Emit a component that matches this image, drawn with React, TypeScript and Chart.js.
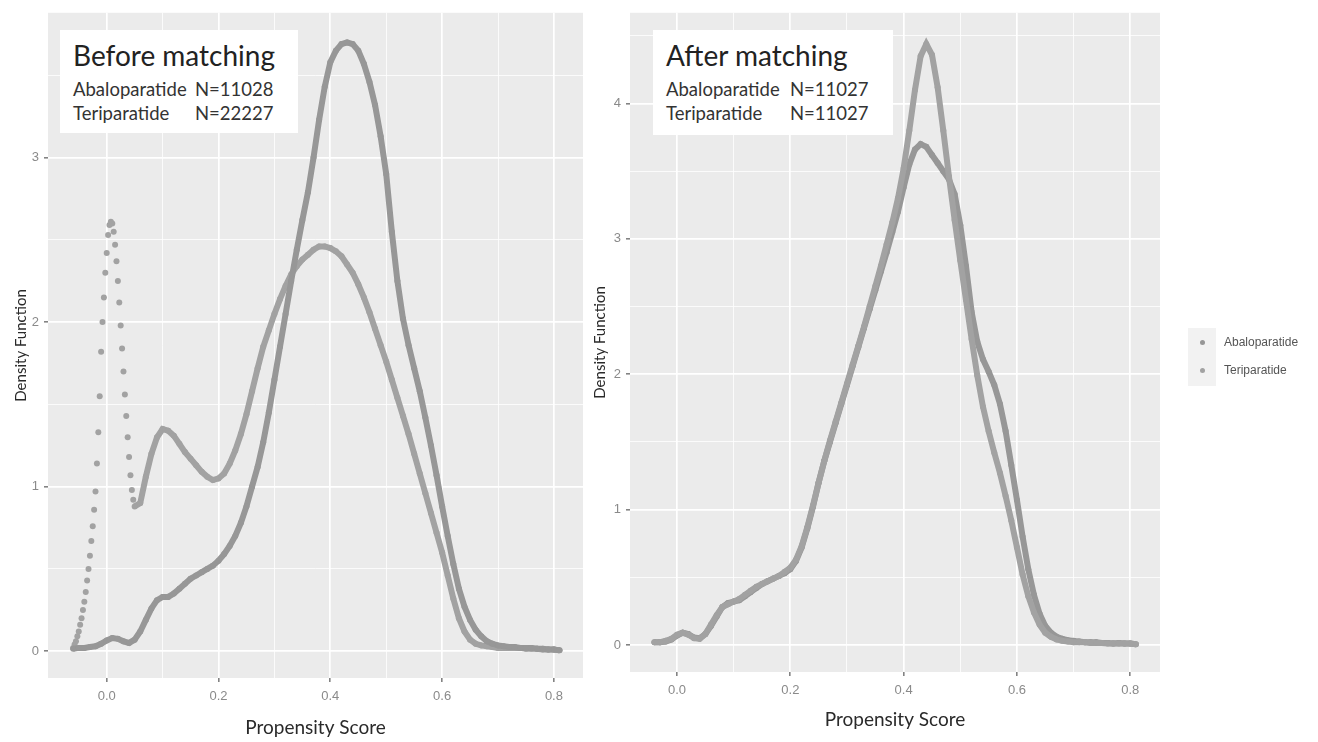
import React, { useEffect, useRef } from "react";
import { Chart, registerables } from "chart.js";
Chart.register(...registerables);

// ---------- DATA ----------
const seriesNames = ["Abaloparatide", "Teriparatide"];

const beforeAbaloX = [
  -0.06, -0.05, -0.04, -0.03, -0.02, -0.01, 0.0, 0.01, 0.02, 0.03, 0.04, 0.05, 0.06, 0.07, 0.08, 0.09,
  0.1, 0.11, 0.12, 0.13, 0.14, 0.15, 0.16, 0.17, 0.18, 0.19, 0.2, 0.21, 0.22, 0.23, 0.24, 0.25, 0.26,
  0.27, 0.28, 0.29, 0.3, 0.31, 0.32, 0.33, 0.34, 0.35, 0.36, 0.37, 0.38, 0.39, 0.4, 0.41, 0.42, 0.43,
  0.44, 0.45, 0.46, 0.47, 0.48, 0.49, 0.5, 0.51, 0.52, 0.53, 0.54, 0.55, 0.56, 0.57, 0.58, 0.59, 0.6,
  0.61, 0.62, 0.63, 0.64, 0.65, 0.66, 0.67, 0.68, 0.69, 0.7, 0.71, 0.72, 0.73, 0.74, 0.75, 0.76, 0.77,
  0.78, 0.79, 0.8, 0.81,
];
const beforeAbaloY = [
  0.015, 0.02, 0.02, 0.025, 0.03, 0.045, 0.065, 0.08, 0.075, 0.06, 0.05, 0.07, 0.12, 0.19, 0.26, 0.31,
  0.33, 0.33, 0.35, 0.38, 0.41, 0.44, 0.46, 0.48, 0.5, 0.52, 0.55, 0.59, 0.64, 0.7, 0.78, 0.88, 1.0,
  1.12, 1.27, 1.45, 1.65, 1.85, 2.05, 2.25, 2.44, 2.62, 2.79, 3.0, 3.23, 3.43, 3.58, 3.65, 3.69, 3.7,
  3.69, 3.65, 3.57, 3.46, 3.32, 3.13, 2.9, 2.55, 2.25, 2.02, 1.86, 1.72, 1.58, 1.42, 1.25, 1.07, 0.88,
  0.7, 0.53, 0.38, 0.27, 0.19, 0.13, 0.09, 0.06, 0.045, 0.035, 0.03, 0.025, 0.025, 0.02, 0.02, 0.02, 0.015,
  0.015, 0.01, 0.01, 0.005,
];

const beforeTeriX = [
  -0.06, -0.0575, -0.055, -0.0525, -0.05, -0.0475, -0.045, -0.0425, -0.04, -0.0375, -0.035, -0.0325,
  -0.03, -0.0275, -0.025, -0.0225, -0.02, -0.0175, -0.015, -0.0125, -0.01, -0.0075, -0.005, -0.0025,
  0.0, 0.0025, 0.005, 0.0075, 0.01, 0.0125, 0.015, 0.0175, 0.02, 0.0225, 0.025, 0.0275, 0.03, 0.0325,
  0.035, 0.0375, 0.04, 0.0425, 0.045, 0.0475, 0.05,
  0.06, 0.07, 0.08, 0.09, 0.1, 0.11, 0.12, 0.13, 0.14, 0.15, 0.16, 0.17, 0.18, 0.19, 0.2, 0.21, 0.22,
  0.23, 0.24, 0.25, 0.26, 0.27, 0.28, 0.29, 0.3, 0.31, 0.32, 0.33, 0.34, 0.35, 0.36, 0.37, 0.38, 0.39,
  0.4, 0.41, 0.42, 0.43, 0.44, 0.45, 0.46, 0.47, 0.48, 0.49, 0.5, 0.51, 0.52, 0.53, 0.54, 0.55, 0.56,
  0.57, 0.58, 0.59, 0.6, 0.61, 0.62, 0.63, 0.64, 0.65, 0.66, 0.67, 0.68, 0.69, 0.7, 0.71, 0.72, 0.73,
  0.74, 0.75, 0.76, 0.77, 0.78, 0.79, 0.8, 0.81,
];
const beforeTeriY = [
  0.02, 0.04, 0.06, 0.09, 0.12, 0.16, 0.2, 0.25, 0.3, 0.36, 0.43, 0.5,
  0.58, 0.67, 0.76, 0.86, 0.97, 1.14, 1.33, 1.55, 1.82, 2.0, 2.15, 2.3,
  2.42, 2.53, 2.59, 2.61, 2.6, 2.55, 2.47, 2.37, 2.25, 2.12, 1.98, 1.84, 1.7, 1.56,
  1.43, 1.3, 1.18, 1.07, 0.98, 0.92, 0.88,
  0.9, 1.06, 1.2, 1.3, 1.35, 1.34, 1.31, 1.26, 1.21, 1.17, 1.13, 1.09, 1.06, 1.04, 1.05, 1.08, 1.14,
  1.22, 1.32, 1.44, 1.58, 1.72, 1.85, 1.95, 2.05, 2.14, 2.22, 2.29, 2.34, 2.38, 2.41, 2.44, 2.46, 2.46,
  2.45, 2.43, 2.4, 2.35, 2.3, 2.23, 2.15, 2.06, 1.96, 1.86, 1.76, 1.65, 1.54, 1.43, 1.32, 1.2, 1.08,
  0.96, 0.84, 0.72, 0.6, 0.46, 0.32, 0.2, 0.12, 0.07, 0.045, 0.035, 0.03, 0.025, 0.02, 0.02, 0.02, 0.02,
  0.02, 0.015, 0.015, 0.015, 0.01, 0.01, 0.01, 0.005,
];
const teriSpikeEnd = 0.05;

const afterX = [
  -0.04, -0.03, -0.02, -0.01, 0.0, 0.01, 0.02, 0.03, 0.04, 0.05, 0.06, 0.07, 0.08, 0.09, 0.1, 0.11,
  0.12, 0.13, 0.14, 0.15, 0.16, 0.17, 0.18, 0.19, 0.2, 0.21, 0.22, 0.23, 0.24, 0.25, 0.26, 0.27, 0.28,
  0.29, 0.3, 0.31, 0.32, 0.33, 0.34, 0.35, 0.36, 0.37, 0.38, 0.39, 0.4, 0.41, 0.42, 0.43, 0.44, 0.45,
  0.46, 0.47, 0.48, 0.49, 0.5, 0.51, 0.52, 0.53, 0.54, 0.55, 0.56, 0.57, 0.58, 0.59, 0.6, 0.61, 0.62,
  0.63, 0.64, 0.65, 0.66, 0.67, 0.68, 0.69, 0.7, 0.71, 0.72, 0.73, 0.74, 0.75, 0.76, 0.77, 0.78, 0.79,
  0.8, 0.81,
];
const afterAbaloY = [
  0.02, 0.02, 0.025, 0.04, 0.07, 0.09, 0.08, 0.055, 0.05, 0.08, 0.14, 0.21, 0.28, 0.31, 0.32, 0.33,
  0.36, 0.39, 0.42, 0.45, 0.47, 0.49, 0.51, 0.53, 0.56, 0.62, 0.72, 0.86, 1.02, 1.2, 1.36, 1.5, 1.64,
  1.78, 1.92, 2.06, 2.2, 2.34, 2.48, 2.62, 2.76, 2.9, 3.05, 3.2, 3.38, 3.55, 3.66, 3.7, 3.68, 3.62,
  3.56, 3.5, 3.44, 3.33, 3.1, 2.8, 2.46, 2.24, 2.11, 2.02, 1.92, 1.78, 1.58, 1.33, 1.07, 0.8, 0.56,
  0.37, 0.23, 0.14, 0.09, 0.06, 0.045, 0.035, 0.03, 0.025, 0.02, 0.02, 0.02, 0.015, 0.015, 0.01, 0.015, 0.01,
  0.01, 0.005,
];
const afterTeriY = [
  0.02, 0.02, 0.03, 0.045, 0.075, 0.09, 0.075, 0.05, 0.045, 0.08, 0.15, 0.22, 0.28, 0.3, 0.32, 0.34,
  0.37, 0.4, 0.43, 0.45, 0.47, 0.49, 0.51, 0.54, 0.57, 0.63, 0.73, 0.87, 1.03, 1.2, 1.36, 1.51, 1.65,
  1.79, 1.93, 2.07, 2.21, 2.35, 2.5, 2.65, 2.8, 2.96, 3.12, 3.3, 3.52, 3.8, 4.1, 4.35, 4.44, 4.36,
  4.12, 3.8, 3.46, 3.14, 2.84, 2.55, 2.26, 1.99, 1.76, 1.58, 1.42, 1.27, 1.1, 0.92, 0.72, 0.52, 0.36,
  0.24, 0.15, 0.09, 0.06, 0.04, 0.03, 0.025, 0.02, 0.02, 0.02, 0.015, 0.015, 0.015, 0.01, 0.01, 0.01, 0.01,
  0.01, 0.005,
];

const xMajorTicks = [0, 0.2, 0.4, 0.6, 0.8];
const xMajorLabels = ["0.0", "0.2", "0.4", "0.6", "0.8"];
const xMinorTicks = [0.1, 0.3, 0.5, 0.7];
const beforeYMajorTicks = [0, 1, 2, 3];
const beforeYMinorTicks = [0.5, 1.5, 2.5, 3.5];
const afterYMajorTicks = [0, 1, 2, 3, 4];
const afterYMinorTicks = [0.5, 1.5, 2.5, 3.5, 4.5];

// ---------- STYLE ----------
const abaloColor = "#979797";
const teriColor = "#a2a2a2";
const panelBg = "#ebebeb";

const near = (a: number, b: number) => Math.abs(a - b) < 1e-6;
const isIn = (arr: number[], v: number) => arr.some((m) => near(m, v));

const bgPlugin = {
  id: "panelBg",
  beforeDraw(chart: any) {
    const { ctx, chartArea: a } = chart;
    ctx.save();
    ctx.fillStyle = panelBg;
    ctx.fillRect(a.left, a.top, a.right - a.left, a.bottom - a.top);
    ctx.restore();
  },
};

function toPoints(xs: number[], ys: number[]) {
  return xs.map((x, i) => ({ x, y: ys[i] }));
}

function makeDataset(label: string, xs: number[], ys: number[], color: string, spikeEnd?: number) {
  return {
    label,
    data: toPoints(xs, ys),
    showLine: true,
    borderColor: color,
    backgroundColor: color,
    borderWidth: 6,
    pointRadius: 3,
    pointBorderWidth: 0,
    pointHoverRadius: 3,
    tension: 0,
    segment:
      spikeEnd === undefined
        ? undefined
        : { borderColor: (c: any) => (c.p0.parsed.x < spikeEnd ? "rgba(0,0,0,0)" : color) },
  };
}

function axisOpts(
  majors: number[],
  minors: number[],
  labelFor: (v: number) => string,
  min: number,
  max: number,
  fitSize: number,
  horizontal: boolean,
  title: string,
  titleFont: number,
  titlePad: any
) {
  return {
    type: "linear",
    min,
    max,
    afterBuildTicks: (scale: any) => {
      scale.ticks = [...majors, ...minors].sort((a, b) => a - b).map((v) => ({ value: v }));
    },
    afterFit: (scale: any) => {
      if (horizontal) scale.height = fitSize;
      else scale.width = fitSize;
    },
    grid: {
      color: "#ffffff",
      lineWidth: (c: any) => (c.tick && isIn(majors, c.tick.value) ? 1.7 : 0.8),
      tickColor: (c: any) => (c.tick && isIn(majors, c.tick.value) ? "#5a5a5a" : "rgba(0,0,0,0)"),
      tickWidth: 1.2,
      tickLength: 4,
      drawTicks: true,
    },
    border: { display: false },
    ticks: {
      autoSkip: false,
      maxRotation: 0,
      padding: horizontal ? 7 : 5,
      color: "#8a8a8a",
      font: { family: "'Liberation Sans', Arial, sans-serif", size: 13 },
      callback: (v: number) => labelFor(v),
    },
    title: {
      display: true,
      text: title,
      color: "#2a2a2a",
      font: { family: "Lato, 'Open Sans', sans-serif", size: titleFont },
      padding: titlePad,
    },
  };
}

const xLabel = (v: number) => {
  const i = xMajorTicks.findIndex((m) => near(m, v));
  return i >= 0 ? xMajorLabels[i] : "";
};
const yLabelBefore = (v: number) => (isIn(beforeYMajorTicks, v) ? String(Math.round(v)) : "");
const yLabelAfter = (v: number) => (isIn(afterYMajorTicks, v) ? String(Math.round(v)) : "");

function Panel(props: { kind: "before" | "after"; left: number; width: number }) {
  const ref = useRef<HTMLCanvasElement | null>(null);
  useEffect(() => {
    if (!ref.current) return;
    const before = props.kind === "before";
    const datasets = before
      ? [
          makeDataset(seriesNames[0], beforeAbaloX, beforeAbaloY, abaloColor),
          makeDataset(seriesNames[1], beforeTeriX, beforeTeriY, teriColor, teriSpikeEnd),
        ]
      : [
          makeDataset(seriesNames[1], afterX, afterTeriY, teriColor),
          makeDataset(seriesNames[0], afterX, afterAbaloY, abaloColor),
        ];
    const chart = new Chart(ref.current, {
      type: "scatter",
      data: { datasets } as any,
      options: {
        responsive: false,
        animation: false,
        devicePixelRatio: 1,
        layout: {
          padding: before
            ? { left: 0, top: 10, right: 7, bottom: 0 }
            : { left: 0, top: 12, right: 158, bottom: 0 },
        },
        plugins: { legend: { display: false }, tooltip: { enabled: false } },
        scales: {
          x: axisOpts(
            xMajorTicks,
            xMinorTicks,
            xLabel,
            before ? -0.105 : -0.083,
            before ? 0.852 : 0.8525,
            before ? 64 : 70,
            true,
            "Propensity Score",
            19,
            before ? { top: 0, bottom: 3 } : { top: 0, bottom: 11 }
          ),
          y: axisOpts(
            before ? beforeYMajorTicks : afterYMajorTicks,
            before ? beforeYMinorTicks : afterYMinorTicks,
            before ? yLabelBefore : yLabelAfter,
            before ? -0.163 : -0.2,
            before ? 3.88 : 4.67,
            before ? 48 : 40,
            false,
            "Density Function",
            15,
            before ? { top: 12, bottom: 0 } : { top: 1, bottom: 0 }
          ),
        } as any,
      },
      plugins: [bgPlugin],
    });
    return () => chart.destroy();
  }, [props.kind]);
  return (
    <canvas
      ref={ref}
      width={props.width}
      height={742}
      style={{ position: "absolute", left: props.left, top: 0, width: props.width, height: 742 }}
    />
  );
}

function Txt(props: { x: number; baseline: number; size: number; color: string; children: any }) {
  const { x, baseline, size, color } = props;
  return (
    <div
      style={{
        position: "absolute",
        left: x,
        top: baseline - 0.887 * size,
        fontFamily: "Lato, 'Open Sans', sans-serif",
        fontSize: size,
        lineHeight: `${size}px`,
        color,
        whiteSpace: "nowrap",
      }}
    >
      {props.children}
    </div>
  );
}

function InfoBox(props: {
  left: number;
  top: number;
  width: number;
  height: number;
  title: string;
  textX: number;
  nX: number;
  lines: [string, string][];
}) {
  return (
    <>
      <div
        style={{
          position: "absolute",
          left: props.left,
          top: props.top,
          width: props.width,
          height: props.height,
          background: "#ffffff",
        }}
      />
      <Txt x={props.textX} baseline={props.top + 36} size={28} color="#222">
        {props.title}
      </Txt>
      {props.lines.map((l, i) => (
        <React.Fragment key={i}>
          <Txt x={props.textX} baseline={props.top + 66 + i * 24} size={18.5} color="#333">
            {l[0]}
          </Txt>
          <Txt x={props.nX} baseline={props.top + 66 + i * 24} size={18.5} color="#333">
            {l[1]}
          </Txt>
        </React.Fragment>
      ))}
    </>
  );
}

export default function App() {
  return (
    <div
      style={{
        position: "fixed",
        left: 0,
        top: 0,
        width: 1318,
        height: 742,
        background: "#ffffff",
        overflow: "hidden",
      }}
    >
      <Panel kind="before" left={0} width={590} />
      <Panel kind="after" left={590} width={728} />
      <InfoBox
        left={60}
        top={30}
        width={238}
        height={103}
        title="Before matching"
        textX={73}
        nX={195}
        lines={[
          [seriesNames[0], "N=11028"],
          [seriesNames[1], "N=22227"],
        ]}
      />
      <InfoBox
        left={653}
        top={30}
        width={240}
        height={105}
        title="After matching"
        textX={666}
        nX={790}
        lines={[
          [seriesNames[0], "N=11027"],
          [seriesNames[1], "N=11027"],
        ]}
      />
      {/* legend */}
      <div
        style={{ position: "absolute", left: 1188, top: 328, width: 28, height: 58, background: "#f2f2f2" }}
      />
      {[abaloColor, teriColor].map((c, i) => (
        <div
          key={i}
          style={{
            position: "absolute",
            left: 1199.5,
            top: 339.5 + i * 28,
            width: 5,
            height: 5,
            borderRadius: "50%",
            background: c,
          }}
        />
      ))}
      {seriesNames.map((n, i) => (
        <div
          key={n}
          style={{
            position: "absolute",
            left: 1224,
            top: 334 + i * 28,
            fontFamily: "'Liberation Sans', Arial, sans-serif",
            fontSize: 12,
            lineHeight: "16px",
            color: "#555",
            whiteSpace: "nowrap",
          }}
        >
          {n}
        </div>
      ))}
    </div>
  );
}
